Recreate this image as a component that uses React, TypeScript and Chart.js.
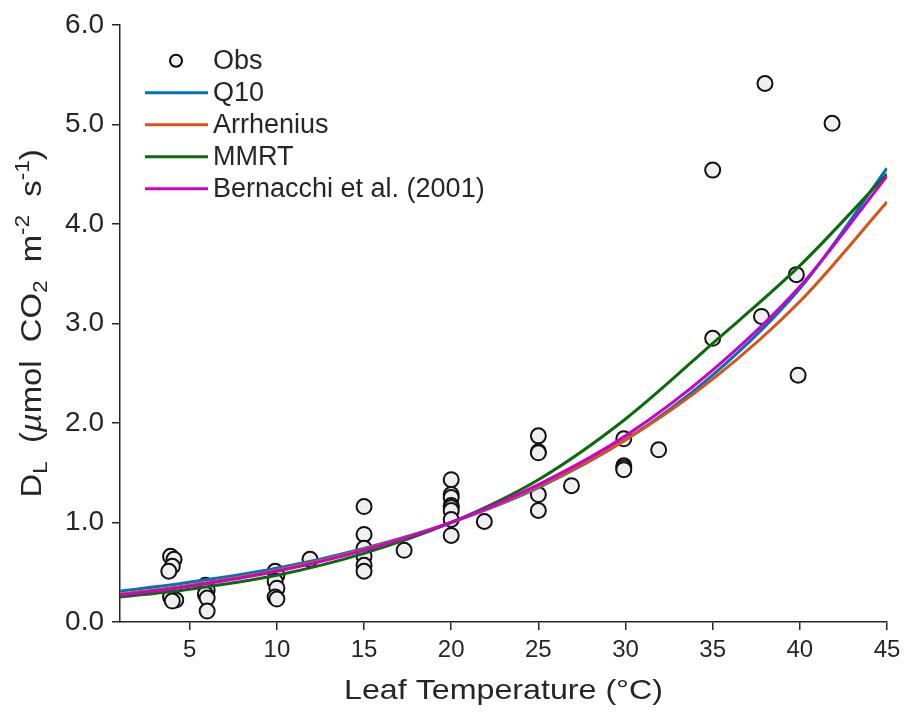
import React, { useEffect, useRef } from "react";
import { Chart, registerables } from "chart.js";

Chart.register(...registerables);

// Observations: leaf temperature (°C) and D_L values
const obsT = [
  3.9, 4.1, 4.0, 3.8, 3.9, 4.2, 4.0,
  5.9, 6.0, 5.9, 6.0, 6.0,
  9.9, 10.0, 9.9, 10.0, 9.9, 10.0,
  11.9,
  15.0, 15.0, 15.0, 15.0, 15.0, 15.0,
  17.3,
  20.0, 20.0, 20.0, 20.0, 20.0, 20.0, 20.0, 20.0,
  21.9,
  25.0, 25.0, 25.0, 25.0, 25.0,
  26.9,
  29.9, 29.9, 29.9, 29.9,
  31.9,
  35.0, 35.0,
  38.0, 37.8,
  39.8, 39.9,
  41.85,
];
const obsV = [
  0.66, 0.63, 0.56, 0.51, 0.25, 0.22, 0.21,
  0.37, 0.32, 0.28, 0.24, 0.11,
  0.51, 0.47, 0.41, 0.34, 0.25, 0.23,
  0.63,
  1.16, 0.88, 0.74, 0.66, 0.57, 0.51,
  0.72,
  1.43, 1.28, 1.25, 1.17, 1.15, 1.12, 1.03, 0.87,
  1.01,
  1.87, 1.71, 1.70, 1.28, 1.12,
  1.37,
  1.84, 1.57, 1.55, 1.53,
  1.73,
  4.54, 2.85,
  5.41, 3.07,
  3.49, 2.48,
  5.01,
];

// Model curves read at these temperatures
const curveT = [1, 5, 10, 15, 20, 25, 30, 35, 40, 45];
const q10 = [0.31, 0.40, 0.54, 0.74, 1.0, 1.35, 1.83, 2.48, 3.35, 4.56];
const arrhenius = [0.28, 0.37, 0.52, 0.73, 1.0, 1.36, 1.83, 2.44, 3.22, 4.22];
const mmrt = [0.25, 0.33, 0.47, 0.69, 1.0, 1.43, 2.04, 2.80, 3.58, 4.50];
const bernacchi = [0.27, 0.36, 0.51, 0.72, 1.0, 1.38, 1.87, 2.53, 3.37, 4.48];

const xTicks = [5, 10, 15, 20, 25, 30, 35, 40, 45];
const seriesNames = ["Obs", "Q10", "Arrhenius", "MMRT", "Bernacchi et al. (2001)"];
const seriesColors = ["#000000", "#0072BD", "#D95319", "#0B6A0B", "#C800C8"];

const FONT = "'Liberation Sans', Arial, sans-serif";
const TXT = "#262626";

const toPts = (xs: number[], ys: number[]) => xs.map((x, i) => ({ x, y: ys[i] }));

const overlayPlugin = {
  id: "overlay",
  afterDraw(chart: any) {
    const ctx = chart.ctx;
    const a = chart.chartArea;
    ctx.save();
    // Legend
    const lx0 = a.left + 25;
    const lx1 = a.left + 88;
    const tx = a.left + 93;
    const rowY = [a.top + 36, a.top + 68, a.top + 100, a.top + 132, a.top + 164];
    ctx.font = `27px ${FONT}`;
    ctx.textBaseline = "middle";
    ctx.textAlign = "left";
    seriesNames.forEach((name, i) => {
      const y = rowY[i];
      if (i === 0) {
        ctx.beginPath();
        ctx.arc(a.left + 56, y, 6, 0, Math.PI * 2);
        ctx.fillStyle = "#EFEFEF";
        ctx.fill();
        ctx.lineWidth = 2;
        ctx.strokeStyle = "#000";
        ctx.stroke();
      } else {
        ctx.beginPath();
        ctx.moveTo(lx0, y);
        ctx.lineTo(lx1, y);
        ctx.lineWidth = 3;
        ctx.strokeStyle = seriesColors[i];
        ctx.stroke();
      }
      ctx.fillStyle = TXT;
      ctx.fillText(name, tx, y + 1);
    });

    // X title (slightly wide lettering)
    ctx.save();
    ctx.font = `28px ${FONT}`;
    ctx.textAlign = "center";
    ctx.textBaseline = "middle";
    ctx.fillStyle = TXT;
    ctx.translate((a.left + a.right) / 2, 691);
    ctx.scale(1.15, 1);
    ctx.fillText("Leaf Temperature (°C)", 0, 0);
    ctx.restore();

    // Y title with sub/superscripts
    const segs: { t: string; k: "n" | "sub" | "sup" | "it" }[] = [
      { t: "D", k: "n" },
      { t: "L", k: "sub" },
      { t: "  (", k: "n" },
      { t: "\u00b5", k: "it" },
      { t: "mol  CO", k: "n" },
      { t: "2", k: "sub" },
      { t: "  m", k: "n" },
      { t: "-2", k: "sup" },
      { t: "  s", k: "n" },
      { t: "-1", k: "sup" },
      { t: ")", k: "n" },
    ];
    const fontFor = (k: string) =>
      k === "sub" || k === "sup" ? `20px ${FONT}` : k === "it" ? `italic 29px ${FONT}` : `29px ${FONT}`;
    let total = 0;
    segs.forEach((s) => {
      ctx.font = fontFor(s.k);
      total += ctx.measureText(s.t).width;
    });
    ctx.translate(31, (a.top + a.bottom) / 2);
    ctx.rotate(-Math.PI / 2);
    ctx.scale(1.13, 1);
    ctx.textAlign = "left";
    ctx.textBaseline = "alphabetic";
    let cx = -total / 2;
    segs.forEach((s) => {
      ctx.font = fontFor(s.k);
      const dy = s.k === "sub" ? 6 : s.k === "sup" ? -12 : 0;
      ctx.fillText(s.t, cx, 10 + dy);
      cx += ctx.measureText(s.t).width;
    });
    ctx.restore();
  },
};

export default function App() {
  const ref = useRef<HTMLCanvasElement | null>(null);
  useEffect(() => {
    if (!ref.current) return;
    const lineDs = (i: number, ys: number[], order: number) => ({
      type: "line" as const,
      label: seriesNames[i],
      data: toPts(curveT, ys),
      borderColor: seriesColors[i],
      backgroundColor: seriesColors[i],
      borderWidth: 3,
      pointRadius: 0,
      cubicInterpolationMode: "monotone" as const,
      fill: false,
      order,
    });
    const chart = new Chart(ref.current, {
      type: "scatter",
      data: {
        datasets: [
          {
            type: "scatter",
            label: seriesNames[0],
            data: toPts(obsT, obsV),
            pointRadius: 7.5,
            pointBackgroundColor: "#EFEFEF",
            pointBorderColor: "#111111",
            pointBorderWidth: 2,
            order: 5,
          } as any,
          lineDs(1, q10, 4),
          lineDs(2, arrhenius, 3),
          lineDs(3, mmrt, 2),
          lineDs(4, bernacchi, 1),
        ],
      },
      options: {
        responsive: false,
        animation: false,
        layout: { padding: { left: 0, top: 22, right: 21, bottom: 0 } },
        plugins: {
          legend: { display: false },
          tooltip: { enabled: false },
          title: { display: false },
        },
        scales: {
          x: {
            type: "linear",
            min: 1,
            max: 45,
            afterBuildTicks: (s: any) => {
              s.ticks = xTicks.map((v) => ({ value: v }));
            },
            afterFit: (s: any) => {
              s.height = 91;
            },
            ticks: {
              color: TXT,
              font: { family: FONT, size: 24 },
              padding: 6,
              maxRotation: 0,
              autoSkip: false,
            },
            grid: {
              display: true,
              drawOnChartArea: false,
              drawTicks: true,
              tickLength: 8,
              color: TXT,
              lineWidth: 1.5,
            },
            border: { display: true, color: TXT, width: 1.5 },
          },
          y: {
            type: "linear",
            min: 0,
            max: 6,
            afterFit: (s: any) => {
              s.width = 120;
            },
            ticks: {
              stepSize: 1,
              color: TXT,
              font: { family: FONT, size: 28 },
              padding: 8,
              callback: (v: any) => Number(v).toFixed(1),
            },
            grid: {
              display: true,
              drawOnChartArea: false,
              drawTicks: true,
              tickLength: 8,
              color: TXT,
              lineWidth: 1.5,
            },
            border: { display: true, color: TXT, width: 1.5 },
          },
        },
      },
      plugins: [overlayPlugin],
    });
    return () => chart.destroy();
  }, []);
  return (
    <div style={{ position: "fixed", left: 0, top: 0, width: 908, height: 713, background: "#fff" }}>
      <canvas ref={ref} width={908} height={713} style={{ display: "block" }} />
    </div>
  );
}
